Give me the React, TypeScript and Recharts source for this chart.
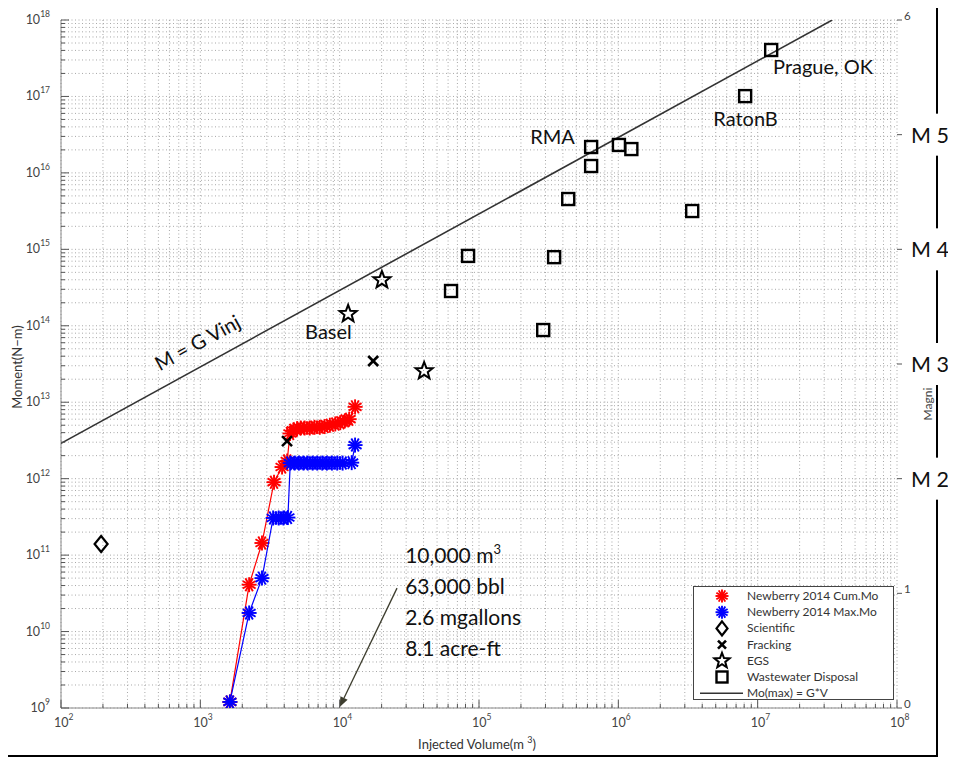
import React from 'react';
import { ComposedChart, Scatter, XAxis, YAxis, CartesianGrid, Legend } from 'recharts';

const FONT = 'Lato, "Open Sans", "DejaVu Sans", sans-serif';

// ---------- axes / tick labels ----------
const xDecades = [1e2, 1e3, 1e4, 1e5, 1e6, 1e7, 1e8];
const yDecades = [1e9, 1e10, 1e11, 1e12, 1e13, 1e14, 1e15, 1e16, 1e17, 1e18];
const minorFactors = [2, 3, 4, 5, 6, 7, 8, 9];
const magTicks = [0, 1, 2, 3, 4, 5, 6];
const magTickLabels = ['0', '1', 'M 2', 'M 3', 'M 4', 'M 5', '6'];

// ---------- series ----------
const cumMoVolume = [1630, 2240, 2770, 3380, 3860, 4200, 4400, 4650, 4950, 5250, 5600, 6100, 6600, 7200, 7800, 8500, 9300, 10100, 10900, 11700, 12900];
const cumMoMoment = [1.2e9, 4.1e10, 1.44e11, 9.0e11, 1.42e12, 1.7e12, 3.9e12, 4.3e12, 4.5e12, 4.6e12, 4.6e12, 4.6e12, 4.7e12, 4.7e12, 4.8e12, 5.0e12, 5.2e12, 5.4e12, 5.7e12, 6.0e12, 8.7e12];

const maxMoVolume = [1630, 2240, 2770, 3330, 3650, 3950, 4250, 4420, 4750, 5100, 5500, 5900, 6400, 6900, 7500, 8100, 8800, 9600, 10500, 12200, 12900];
const maxMoMoment = [1.2e9, 1.75e10, 5.0e10, 3.06e11, 3.06e11, 3.06e11, 3.1e11, 1.6e12, 1.6e12, 1.6e12, 1.6e12, 1.6e12, 1.6e12, 1.6e12, 1.6e12, 1.6e12, 1.6e12, 1.6e12, 1.6e12, 1.62e12, 2.75e12];

const scientificVolume = [194];
const scientificMoment = [1.4e11];

const frackingVolume = [4190, 17400];
const frackingMoment = [3.1e12, 3.46e13];

const egsVolume = [20100, 11500, 40400];
const egsMoment = [3.97e14, 1.43e14, 2.56e13];

const wasteVolume = [1.25e7, 8.13e6, 6.38e5, 1.01e6, 1.24e6, 6.38e5, 4.37e5, 3.39e6, 8.35e4, 3.46e5, 6.3e4, 2.89e5];
const wasteMoment = [4.05e17, 1.01e17, 2.18e16, 2.32e16, 2.05e16, 1.23e16, 4.55e15, 3.17e15, 8.2e14, 7.9e14, 2.85e14, 8.8e13];

const gvLineVolume = [100, 3.43e7];
const gvLineMoment = [2.9e12, 1.0e18];

const seriesNames = [
  'Newberry 2014 Cum.Mo',
  'Newberry 2014 Max.Mo',
  'Scientific',
  'Fracking',
  'EGS',
  'Wastewater Disposal',
  'Mo(max) = G*V',
];

// ---------- annotations ----------
const siteLabels = ['Prague, OK', 'RatonB', 'RMA', 'Basel'];
const siteLabelVolume = [1.29e7, 4.8e6, 2.33e5, 5650];
const siteLabelMoment = [1.97e17, 4.1e16, 2.39e16, 6.7e13];

const lineLabel = 'M = G Vinj';
const lineLabelVolume = [1010];
const lineLabelMoment = [4.97e13];

const noteLines = ['10,000 m', '63,000 bbl', '2.6 mgallons', '8.1 acre-ft'];
const noteSuperscript = '3';
const noteVolume = [2.95e4];
const noteMoment = [7.9e10];

const arrowVolume = [2.58e4, 1.0e4];
const arrowMoment = [3.7e10, 1.03e9];

// ---------- helpers ----------
const zip = (xs: number[], ys: number[]) => xs.map((x, i) => ({ x, y: ys[i] }));
const withMinors = (decades: number[]) => {
  const out: number[] = [];
  decades.forEach((d, i) => {
    out.push(d);
    if (i < decades.length - 1) minorFactors.forEach((f) => out.push(d * f));
  });
  return out;
};
const xTicks = withMinors(xDecades);
const yTicks = withMinors(yDecades);
const isDecade = (v: number) => {
  const l = Math.log10(v);
  return Math.abs(l - Math.round(l)) < 1e-6;
};

const TICK_COLOR = '#555';
const AXIS_COLOR = '#8a8a8a';
const LABEL_COLOR = '#444';

// ---------- marker drawing ----------
const drawAsterisk = (cx: number, cy: number, color: string, r = 7.5) => {
  const angles = [0, 30, 60, 90, 120, 150];
  return (
    <g>
      {angles.map((a) => {
        const rad = (a * Math.PI) / 180;
        const dx = Math.cos(rad) * r;
        const dy = Math.sin(rad) * r;
        return <line key={a} x1={cx - dx} y1={cy - dy} x2={cx + dx} y2={cy + dy} stroke={color} strokeWidth={1.9} />;
      })}
      <circle cx={cx} cy={cy} r={2.6} fill={color} />
    </g>
  );
};
const drawDiamond = (cx: number, cy: number, h = 8, w = 6.5) => (
  <polygon points={`${cx},${cy - h} ${cx + w},${cy} ${cx},${cy + h} ${cx - w},${cy}`} fill="none" stroke="#000" strokeWidth={2.2} />
);
const drawX = (cx: number, cy: number, s = 5) => (
  <g stroke="#000" strokeWidth={2.6}>
    <line x1={cx - s} y1={cy - s} x2={cx + s} y2={cy + s} />
    <line x1={cx - s} y1={cy + s} x2={cx + s} y2={cy - s} />
  </g>
);
const drawStar = (cx: number, cy: number, R = 9, r = 3.8) => {
  const pts: string[] = [];
  for (let i = 0; i < 10; i++) {
    const rad = ((-90 + i * 36) * Math.PI) / 180;
    const rr = i % 2 === 0 ? R : r;
    pts.push(`${cx + rr * Math.cos(rad)},${cy + rr * Math.sin(rad)}`);
  }
  return <polygon points={pts.join(' ')} fill="none" stroke="#000" strokeWidth={2} strokeLinejoin="miter" />;
};
const drawSquare = (cx: number, cy: number, s = 6) => (
  <rect x={cx - s} y={cy - s} width={2 * s} height={2 * s} fill="none" stroke="#000" strokeWidth={2.4} />
);

const ok = (p: any) => p && p.cx != null && p.cy != null && !isNaN(p.cx) && !isNaN(p.cy);
const RedMark = (p: any) => (ok(p) ? drawAsterisk(p.cx, p.cy, '#ff0000') : <g />);
const BlueMark = (p: any) => (ok(p) ? drawAsterisk(p.cx, p.cy, '#0000ff') : <g />);
const DiamondMark = (p: any) => (ok(p) ? drawDiamond(p.cx, p.cy) : <g />);
const XMark = (p: any) => (ok(p) ? drawX(p.cx, p.cy) : <g />);
const StarMark = (p: any) => (ok(p) ? drawStar(p.cx, p.cy) : <g />);
const SquareMark = (p: any) => (ok(p) ? drawSquare(p.cx, p.cy) : <g />);
const NoMark = () => <g />;

const SiteText = (p: any) =>
  ok(p) ? (
    <text x={p.cx} y={p.cy} fontSize={20} fontFamily={FONT} fill="#111">
      {p.payload.text}
    </text>
  ) : (
    <g />
  );
const LineText = (p: any) =>
  ok(p) ? (
    <text x={p.cx} y={p.cy} fontSize={20} fontFamily={FONT} fill="#111" textAnchor="middle" transform={`rotate(-28.7, ${p.cx}, ${p.cy})`}>
      {p.payload.text}
    </text>
  ) : (
    <g />
  );
const NoteText = (p: any) =>
  ok(p) ? (
    <text fontSize={21} fontFamily={FONT} fill="#111">
      {noteLines.map((l, i) => (
        <tspan key={i} x={p.cx} y={p.cy + i * 31}>
          {l}
          {i === 0 ? (
            <tspan dy={-9} fontSize={13}>
              {noteSuperscript}
            </tspan>
          ) : null}
        </tspan>
      ))}
    </text>
  ) : (
    <g />
  );

const ArrowLine = (props: any) => {
  const pts = props.points || [];
  if (pts.length < 2) return <g />;
  const a = pts[0];
  const b = pts[1];
  const ang = Math.atan2(b.y - a.y, b.x - a.x);
  const L = 10;
  const Wd = 4;
  const bx = b.x - L * Math.cos(ang);
  const by = b.y - L * Math.sin(ang);
  const px = -Math.sin(ang) * Wd;
  const py = Math.cos(ang) * Wd;
  return (
    <g>
      <line x1={a.x} y1={a.y} x2={bx} y2={by} stroke="#3d3d2e" strokeWidth={1.3} />
      <polygon points={`${b.x},${b.y} ${bx + px},${by + py} ${bx - px},${by - py}`} fill="#3d3d2e" />
    </g>
  );
};

// ---------- ticks ----------
const BottomTick = (props: any) => {
  const { x, y, payload } = props;
  const v = payload.value;
  const major = isDecade(v);
  return (
    <g>
      <line x1={x} x2={x} y1={y} y2={y - (major ? 8 : 4)} stroke={TICK_COLOR} />
      {major && (
        <text x={x - 7} y={y + 19} fontSize={12.5} fill={LABEL_COLOR} fontFamily={FONT}>
          10
          <tspan dy={-7} fontSize={8.5}>
            {Math.round(Math.log10(v))}
          </tspan>
        </text>
      )}
    </g>
  );
};
const TopTick = (props: any) => {
  const { x, y, payload } = props;
  const major = isDecade(payload.value);
  return <line x1={x} x2={x} y1={y} y2={y + (major ? 8 : 4)} stroke={TICK_COLOR} />;
};
const LeftTick = (props: any) => {
  const { x, y, payload } = props;
  const v = payload.value;
  const major = isDecade(v);
  return (
    <g>
      <line x1={x} x2={x + (major ? 8 : 4)} y1={y} y2={y} stroke={TICK_COLOR} />
      {major && (
        <text x={x - 11} y={y + 4} fontSize={12.5} fill={LABEL_COLOR} fontFamily={FONT} textAnchor="end">
          10
          <tspan dy={-7} fontSize={8.5}>
            {Math.round(Math.log10(v))}
          </tspan>
        </text>
      )}
    </g>
  );
};
const RightLogTick = (props: any) => {
  const { x, y, payload } = props;
  const major = isDecade(payload.value);
  return <line x1={x} x2={x - (major ? 8 : 4)} y1={y} y2={y} stroke={TICK_COLOR} />;
};
const MagTick = (props: any) => {
  const { x, y, payload } = props;
  const idx = magTicks.indexOf(payload.value);
  const lbl = magTickLabels[idx] ?? '';
  if (lbl.startsWith('M')) {
    return (
      <g>
        <line x1={x} x2={x + 5} y1={y} y2={y} stroke={TICK_COLOR} />
        <rect x={x + 7} y={y - 21} width={52} height={42} fill="#fff" />
        <text x={x + 33} y={y + 8} textAnchor="middle" fontSize={21.5} fontFamily={FONT} fill="#111">
          {lbl}
        </text>
      </g>
    );
  }
  return (
    <g>
      <line x1={x} x2={x + 5} y1={y} y2={y} stroke={TICK_COLOR} />
      <text x={x + 7} y={y} fontSize={11.5} fontFamily={FONT} fill={LABEL_COLOR}>
        {lbl}
      </text>
    </g>
  );
};

const XTitle = (props: any) => {
  const vb = props.viewBox || { x: 53, y: 700, width: 836, height: 50 };
  return (
    <text x={vb.x + vb.width / 2 - 2} y={vb.y + 41} textAnchor="middle" fontSize={13} fontFamily={FONT} fill="#333">
      Injected Volume(m <tspan dy={-6} fontSize={9}>3</tspan>
      <tspan dy={6}>)</tspan>
    </text>
  );
};
const YTitle = (props: any) => {
  const vb = props.viewBox || { x: 0, y: 12, width: 53, height: 688 };
  const cx = vb.x + 14;
  const cy = vb.y + 347;
  return (
    <text x={cx} y={cy} textAnchor="middle" fontSize={13} fontFamily={FONT} fill="#333" transform={`rotate(-90, ${cx}, ${cy})`}>
      Moment(N−m)
    </text>
  );
};
const MagTitle = (props: any) => {
  const vb = props.viewBox || { x: 889, y: 12, width: 59, height: 688 };
  const cx = vb.x + 35;
  const cy = vb.y + 384;
  return (
    <text x={cx} y={cy} textAnchor="middle" fontSize={12} fontFamily={FONT} fill={LABEL_COLOR} transform={`rotate(-90, ${cx}, ${cy})`}>
      Magni
    </text>
  );
};

const legendIcon = (i: number, cx: number, cy: number) => {
  switch (i) {
    case 0:
      return drawAsterisk(cx, cy, '#ff0000', 6.5);
    case 1:
      return drawAsterisk(cx, cy, '#0000ff', 6.5);
    case 2:
      return drawDiamond(cx, cy, 7, 5.5);
    case 3:
      return drawX(cx, cy, 4);
    case 4:
      return drawStar(cx, cy, 8, 3.4);
    case 5:
      return drawSquare(cx, cy, 5.5);
    default:
      return <line x1={7} x2={50} y1={cy} y2={cy} stroke="#333" strokeWidth={1.5} />;
  }
};

const LegendBox = () => (
  <svg width={201} height={114} style={{ display: 'block' }}>
    <rect x={0.5} y={0.5} width={200} height={113} fill="#fff" stroke="#444" />
    {seriesNames.map((name, i) => {
      const cy = 10 + i * 16.2;
      return (
        <g key={name}>
          {legendIcon(i, 29, cy)}
          <text x={54} y={cy + 4} fontSize={12} fill="#333" fontFamily={FONT}>
            {name}
          </text>
        </g>
      );
    })}
  </svg>
);

export default function App() {
  const W = 948;
  const H = 750;
  return (
    <div style={{ position: 'relative', width: W, height: H }}>
      <div
        style={{
          position: 'absolute',
          left: -2,
          top: -2,
          width: 932,
          height: 751,
          border: '2px solid #000',
          boxSizing: 'border-box',
        }}
      />
      <ComposedChart width={W} height={H} margin={{ top: 12, right: 0, bottom: 0, left: 0 }}>
        <CartesianGrid stroke="#a8a8a8" strokeDasharray="1 2.5" />
        <XAxis
          dataKey="x"
          type="number"
          scale="log"
          domain={[1e2, 1e8]}
          allowDataOverflow
          ticks={xTicks}
          interval={0}
          tickSize={0}
          tickMargin={0}
          tickLine={false}
          height={50}
          stroke={AXIS_COLOR}
          tick={<BottomTick />}
          label={<XTitle />}
        />
        <XAxis
          xAxisId="top"
          orientation="top"
          dataKey="x"
          type="number"
          scale="log"
          domain={[1e2, 1e8]}
          allowDataOverflow
          ticks={xTicks}
          interval={0}
          tickSize={0}
          tickMargin={0}
          tickLine={false}
          height={0}
          stroke={AXIS_COLOR}
          tick={<TopTick />}
        />
        <YAxis
          dataKey="y"
          type="number"
          scale="log"
          domain={[1e9, 1e18]}
          allowDataOverflow
          ticks={yTicks}
          interval={0}
          tickSize={0}
          tickMargin={0}
          tickLine={false}
          width={53}
          stroke={AXIS_COLOR}
          tick={<LeftTick />}
          label={<YTitle />}
        />
        <YAxis
          yAxisId="rlog"
          orientation="right"
          type="number"
          scale="log"
          domain={[1e9, 1e18]}
          allowDataOverflow
          ticks={yTicks}
          interval={0}
          tickSize={0}
          tickMargin={0}
          tickLine={false}
          width={0}
          stroke={AXIS_COLOR}
          tick={<RightLogTick />}
        />
        <YAxis
          yAxisId="mag"
          orientation="right"
          type="number"
          domain={[0, 6]}
          allowDataOverflow
          ticks={magTicks}
          interval={0}
          tickSize={0}
          tickMargin={0}
          tickLine={false}
          width={59}
          axisLine={false}
          tick={<MagTick />}
          label={<MagTitle />}
        />
        <Legend
          layout="horizontal"
          verticalAlign="middle"
          align="center"
          width={201}
          height={114}
          wrapperStyle={{ left: 685, top: 578, width: 201, height: 114 }}
          content={() => <LegendBox />}
        />

        <Scatter
          name={seriesNames[6]}
          data={zip(gvLineVolume, gvLineMoment)}
          line={{ stroke: '#333', strokeWidth: 1.6 }}
          shape={NoMark}
          isAnimationActive={false}
        />
        <Scatter
          name={seriesNames[0]}
          data={zip(cumMoVolume, cumMoMoment)}
          fill="#ff0000"
          line={{ stroke: '#ff0000', strokeWidth: 1.2 }}
          shape={RedMark}
          isAnimationActive={false}
        />
        <Scatter
          name={seriesNames[1]}
          data={zip(maxMoVolume, maxMoMoment)}
          fill="#0000ff"
          line={{ stroke: '#0000ff', strokeWidth: 1.2 }}
          shape={BlueMark}
          isAnimationActive={false}
        />
        <Scatter name={seriesNames[2]} data={zip(scientificVolume, scientificMoment)} shape={DiamondMark} isAnimationActive={false} />
        <Scatter name={seriesNames[3]} data={zip(frackingVolume, frackingMoment)} shape={XMark} isAnimationActive={false} />
        <Scatter name={seriesNames[4]} data={zip(egsVolume, egsMoment)} shape={StarMark} isAnimationActive={false} />
        <Scatter name={seriesNames[5]} data={zip(wasteVolume, wasteMoment)} shape={SquareMark} isAnimationActive={false} />

        <Scatter
          name="site labels"
          legendType="none"
          data={siteLabels.map((t, i) => ({ x: siteLabelVolume[i], y: siteLabelMoment[i], text: t }))}
          shape={SiteText}
          isAnimationActive={false}
        />
        <Scatter
          name="line label"
          legendType="none"
          data={lineLabelVolume.map((v, i) => ({ x: v, y: lineLabelMoment[i], text: lineLabel }))}
          shape={LineText}
          isAnimationActive={false}
        />
        <Scatter
          name="volume note"
          legendType="none"
          data={noteVolume.map((v, i) => ({ x: v, y: noteMoment[i] }))}
          shape={NoteText}
          isAnimationActive={false}
        />
        <Scatter
          name="arrow"
          legendType="none"
          data={zip(arrowVolume, arrowMoment)}
          line={ArrowLine}
          shape={NoMark}
          isAnimationActive={false}
        />
      </ComposedChart>
    </div>
  );
}
